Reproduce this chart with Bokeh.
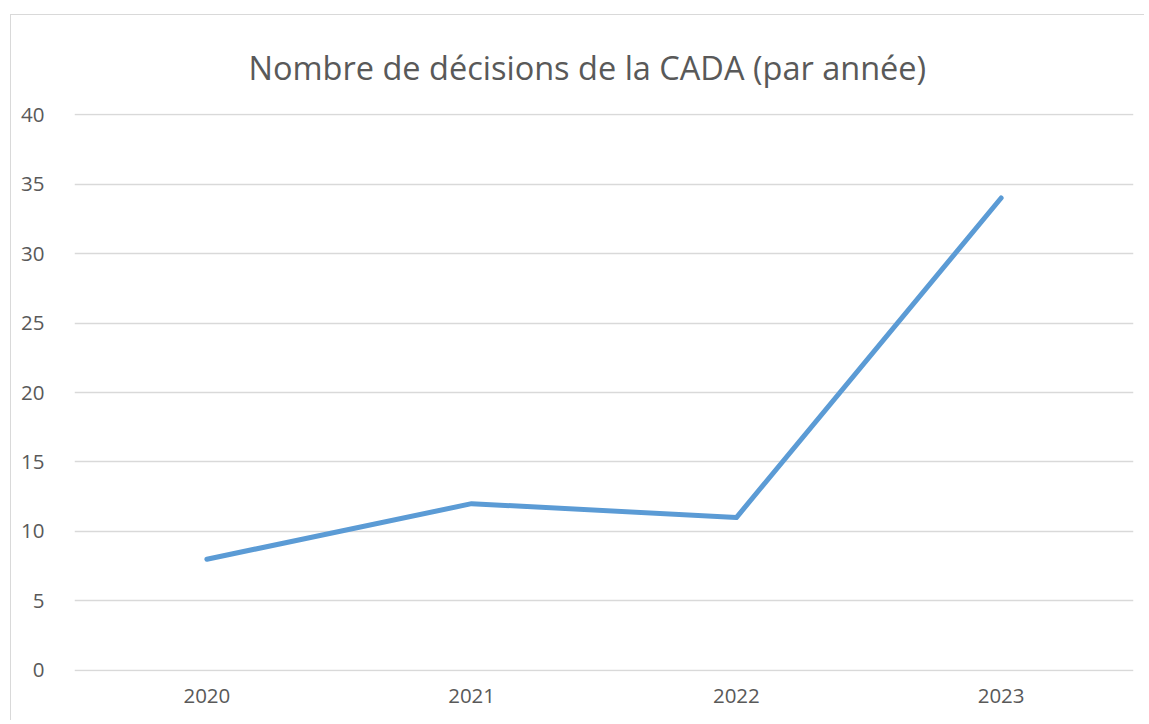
from bokeh.plotting import figure
from bokeh.embed import file_html
from bokeh.resources import INLINE
from bokeh.models import ColumnDataSource, FixedTicker

years = ["2020", "2021", "2022", "2023"]
decisions = [8, 12, 11, 34]
y_ticks = [0, 5, 10, 15, 20, 25, 30, 35, 40]

src = ColumnDataSource(data=dict(year=years, n=decisions))

p = figure(
    x_range=years,
    y_range=(-0.08, 40.08),
    width=1134,
    height=706,
    output_backend="svg",
    toolbar_location=None,
    min_border_left=63,
    min_border_right=12,
    min_border_top=98,
    min_border_bottom=50,
    title="Nombre de décisions de la CADA (par année)",
    margin=(15, 0, 0, 11),
)
p.styles = {"box-shadow": "-1px -1px 0 0 #d9d9d9"}

p.title.align = "left"
p.title.text_font = "Open Sans"
p.title.text_font_size = "32.5px"
p.title.text_font_style = "normal"
p.title.text_color = "#595959"
p.title.offset = 174
p.title.standoff = 48

p.line(x="year", y="n", source=src, line_color="#5B9BD5", line_width=5,
       line_cap="round", line_join="round")

p.outline_line_color = None
p.background_fill_color = "white"
p.border_fill_color = "white"

p.xgrid.grid_line_color = None
p.ygrid.grid_line_color = "#d9d9d9"
p.ygrid.grid_line_width = 1.5
p.yaxis.ticker = FixedTicker(ticks=y_ticks)

for ax in (p.xaxis, p.yaxis):
    ax.axis_line_color = None
    ax.major_tick_line_color = None
    ax.minor_tick_line_color = None
    ax.major_label_text_font = "Open Sans"
    ax.major_label_text_font_size = "20.5px"
    ax.major_label_text_color = "#595959"
p.yaxis.major_label_standoff = 24
p.xaxis.major_label_standoff = 11

open("out.html", "w").write(file_html(p, INLINE))
